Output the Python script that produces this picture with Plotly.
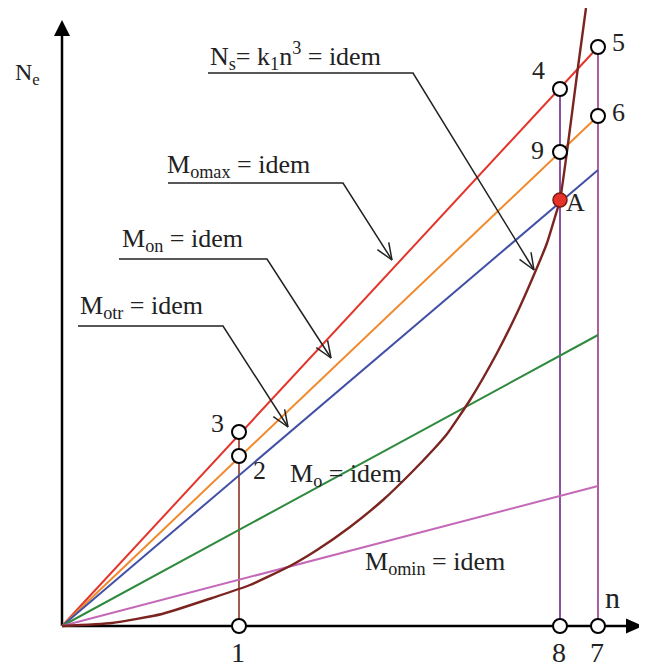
import math
import plotly.graph_objects as go

# n axis: 0 at the origin, the marked speeds 1, 8, 7
n_ticks = ["1", "8", "7"]
n_tick_vals = [17.7, 49.8, 53.6]
n_end = 53.6

# N_e at the right end of each straight line (n = n_end)
line_names = ["M<sub>omax</sub>", "M<sub>on</sub>", "M<sub>otr</sub>", "M<sub>o</sub>", "M<sub>omin</sub>"]
line_end_ne = [57.9, 51.0, 45.6, 29.1, 14.0]
line_colors = ["#e3352b", "#f08a2c", "#4150a6", "#2f8a3e", "#c468b8"]

# N_s = k1 n^3 curve
curve_n = [0, 5, 10, 15, 18.8, 22.8, 25.5, 28.8, 32.1, 34.8, 37.1, 38.5, 40.8, 43.5,
           45.5, 47.1, 48.5, 49.3, 49.8, 50.6, 51.6, 52.4]
curve_ne = [0, 0.3, 1.2, 2.8, 4.1, 6.0, 7.6, 9.9, 12.6, 15.2, 17.6, 19.2, 22.6, 27.3,
            31.3, 34.9, 38.3, 40.9, 42.6, 48.2, 55.9, 61.8]

# marked points
pt_labels = ["3", "2", "4", "9", "5", "6"]
pt_n = [17.7, 17.7, 49.8, 49.8, 53.6, 53.6]
pt_ne = [19.4, 17.0, 53.7, 47.4, 57.9, 51.0]
a_n, a_ne = 49.8, 42.6

# vertical lines from the n axis up to points 3, 4, 5
vert_n = [17.7, 49.8, 53.6]
vert_top = [19.4, 53.7, 57.9]
vert_colors = ["#9a4a3c", "#7f3f9c", "#a74d93"]

FONT = "Liberation Serif"

fig = go.Figure()

for x, top, c in zip(vert_n, vert_top, vert_colors):
    fig.add_trace(go.Scatter(x=[x, x], y=[0, top], mode="lines",
                             line=dict(color=c, width=1.8), hoverinfo="skip"))

for name, ne, c in zip(line_names, line_end_ne, line_colors):
    fig.add_trace(go.Scatter(x=[0, n_end], y=[0, ne], mode="lines", name=name,
                             line=dict(color=c, width=2)))

fig.add_trace(go.Scatter(x=curve_n, y=curve_ne, mode="lines", name="N_s",
                         line=dict(color="#7b2420", width=2.4, shape="spline", smoothing=0.5)))

# open markers
fig.add_trace(go.Scatter(x=pt_n + n_tick_vals, y=pt_ne + [0, 0, 0], mode="markers",
                         marker=dict(size=14, color="white", line=dict(color="black", width=2))))
fig.add_trace(go.Scatter(x=[a_n], y=[a_ne], mode="markers",
                         marker=dict(size=14, color="#e5332a", line=dict(color="#7a1a10", width=1.5))))

# axes with filled arrowheads
shapes = [
    dict(type="line", x0=0, y0=0, x1=0, y1=59.5, line=dict(color="black", width=2.5), layer="below"),
    dict(type="line", x0=0, y0=0, x1=56.6, y1=0, line=dict(color="black", width=2.5), layer="below"),
    dict(type="path", path="M -0.8 59.0 L 0 60.6 L 0.8 59.0 Z", fillcolor="black", line=dict(width=0)),
    dict(type="path", path="M 56.4 0.75 L 58.1 0 L 56.4 -0.75 Z", fillcolor="black", line=dict(width=0)),
]

# leader lines: start, bend, arrow tip
leaders = [
    [(14.6, 55.3), (35.1, 55.3), (47.2, 35.6)],
    [(10.6, 44.3), (28.1, 44.3), (33.0, 36.6)],
    [(5.7, 36.7), (20.5, 36.7), (26.9, 26.8)],
    [(1.6, 30.0), (16.1, 30.0), (22.6, 19.9)],
]
for (x0, y0), (x1, y1), (x2, y2) in leaders:
    shapes.append(dict(type="path", path=f"M {x0} {y0} L {x1} {y1} L {x2} {y2}",
                       line=dict(color="#222", width=1.5)))
    dx, dy = x1 - x2, y1 - y2
    d = math.hypot(dx, dy)
    ux, uy = dx / d, dy / d
    for s in (1, -1):
        th = math.radians(22) * s
        rx = ux * math.cos(th) - uy * math.sin(th)
        ry = ux * math.sin(th) + uy * math.cos(th)
        shapes.append(dict(type="line", x0=x2, y0=y2, x1=x2 + 1.8 * rx, y1=y2 + 1.8 * ry,
                           line=dict(color="#222", width=1.5)))

annotations = []


def label(x, y, text, size=26, xanchor="left"):
    annotations.append(dict(x=x, y=y, text=text, showarrow=False, xanchor=xanchor, yanchor="middle",
                            font=dict(family=FONT, size=size, color="#222")))


label(14.6, 57.0, "N<sub>s</sub>= k<sub>1</sub>n<sup>3</sup> = idem")
label(10.3, 46.0, "M<sub>omax</sub> = idem")
label(5.8, 38.6, "M<sub>on</sub> = idem")
label(1.6, 31.9, "M<sub>otr</sub> = idem")
label(22.6, 15.1, "M<sub>o</sub> = idem")
label(30.1, 6.3, "M<sub>omin</sub> = idem")
label(-4.9, 55.2, "N<sub>e</sub>", size=24)
label(55.0, 2.85, "n", size=30, xanchor="center")
for t, x in zip(n_ticks, n_tick_vals):
    label(x - 0.1, -2.6, t, size=28, xanchor="center")

pt_text_pos = {"3": (15.5, 20.3), "2": (19.7, 15.6), "4": (47.6, 55.6),
               "9": (47.5, 47.6), "5": (55.6, 58.4), "6": (55.6, 51.4)}
for t in pt_labels:
    px, py = pt_text_pos[t]
    label(px, py, t, size=26, xanchor="center")
label(51.3, 42.4, "A", size=26, xanchor="center")

# the page body adds an 8 px offset, so the ranges are shifted to compensate
fig.update_layout(
    width=647, height=667,
    margin=dict(l=0, r=0, t=0, b=0),
    paper_bgcolor="white", plot_bgcolor="white",
    showlegend=False,
    xaxis=dict(range=[-5.4, 59.3], visible=False, fixedrange=True),
    yaxis=dict(range=[-4.9, 61.8], visible=False, fixedrange=True),
    shapes=shapes,
    annotations=annotations,
)

fig.write_html("out.html")
